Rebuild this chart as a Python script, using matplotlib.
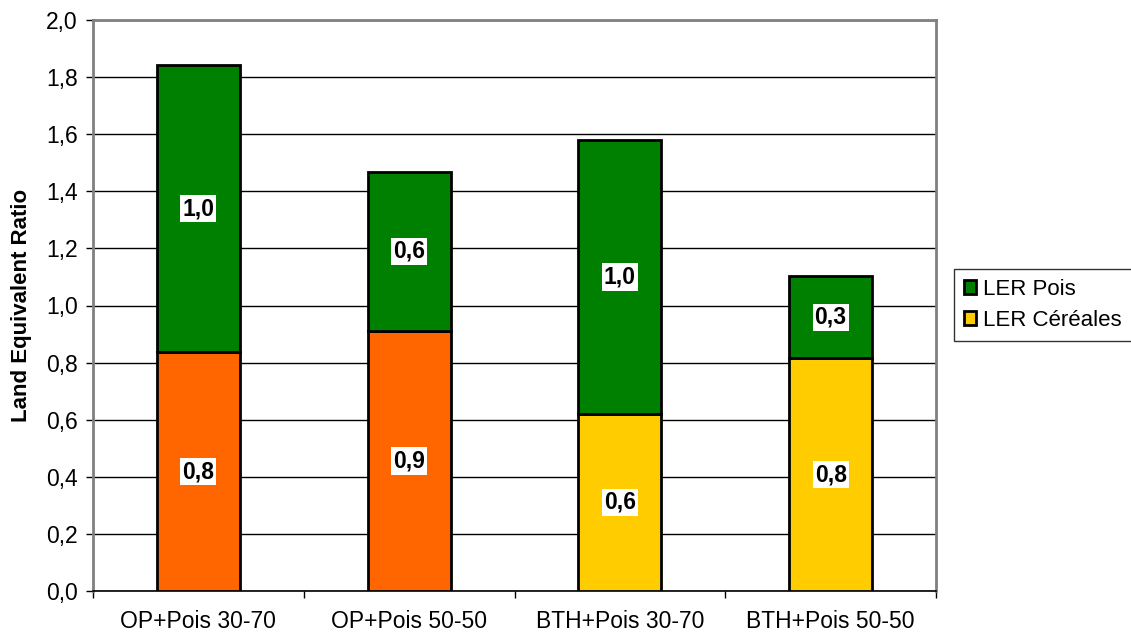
import matplotlib
matplotlib.use("Agg")
import matplotlib.pyplot as plt
from matplotlib.patches import Patch
import numpy as np

plt.rcParams['font.family'] = ['Liberation Sans', 'DejaVu Sans']

categories = ["OP+Pois 30-70", "OP+Pois 50-50", "BTH+Pois 30-70", "BTH+Pois 50-50"]
ler_cereales = [0.837, 0.911, 0.620, 0.816]
ler_pois = [1.005, 0.557, 0.960, 0.287]
cereal_colors = ["#FF6600", "#FF6600", "#FFCC00", "#FFCC00"]
pois_color = "#008000"
yticks = [0.0, 0.2, 0.4, 0.6, 0.8, 1.0, 1.2, 1.4, 1.6, 1.8, 2.0]

fig = plt.figure(figsize=(11.31, 6.35), dpi=100)
ax = fig.add_axes([93 / 1131, 1 - 591 / 635, (936 - 93) / 1131, (591 - 20) / 635])

x = np.arange(len(categories))
width = 0.395
ax.bar(x, ler_cereales, width, color=cereal_colors, edgecolor="black", linewidth=2, zorder=3)
ax.bar(x, ler_pois, width, bottom=ler_cereales, color=pois_color, edgecolor="black", linewidth=2, zorder=3)

def fmt(v):
    return f"{v:.1f}".replace(".", ",")

for xi, c, p in zip(x, ler_cereales, ler_pois):
    for ctr, val in ((c / 2, c), (c + p / 2, p)):
        ax.text(xi, ctr, fmt(val), ha="center", va="center", fontsize=16.5, fontweight="bold",
                bbox=dict(facecolor="white", edgecolor="none", pad=1.5), zorder=5)

ax.set_xlim(-0.5, len(categories) - 0.5)
ax.set_ylim(0, 2.0)
ax.set_yticks(yticks)
ax.set_yticklabels([fmt(t) for t in yticks], fontsize=16.5)
ax.yaxis.grid(True, color="black", linewidth=1, zorder=0)
ax.set_axisbelow(True)

# category ticks sit on the boundaries between groups
ax.set_xticks(x)
ax.set_xticklabels(categories, fontsize=16.5)
ax.tick_params(axis="x", length=0, pad=14)
ax.set_xticks(np.arange(-0.5, len(categories)), minor=True)
ax.tick_params(axis="x", which="minor", length=5, width=1, color="black")
ax.tick_params(axis="y", length=5, width=1, color="black", pad=6)

for side in ("top", "right", "left"):
    ax.spines[side].set_color("#808080")
    ax.spines[side].set_linewidth(2)
ax.spines["bottom"].set_color("black")
ax.spines["bottom"].set_linewidth(1.2)

ax.set_ylabel("Land Equivalent Ratio", fontsize=16, fontweight="bold", labelpad=10)

handles = [Patch(facecolor=pois_color, edgecolor="black", linewidth=2),
           Patch(facecolor="#FFCC00", edgecolor="black", linewidth=2)]
leg = fig.legend(handles, ["LER Pois", "LER Céréales"], loc="upper left",
                 bbox_to_anchor=(954 / 1131, 1 - 269 / 635), fontsize=16, frameon=True,
                 fancybox=False, edgecolor="black", handlelength=0.55, handleheight=0.55,
                 handletextpad=0.3, borderpad=0.45, labelspacing=0.45, borderaxespad=0)
leg.get_frame().set_linewidth(1)

fig.savefig("out.png", dpi=100, facecolor="white")
